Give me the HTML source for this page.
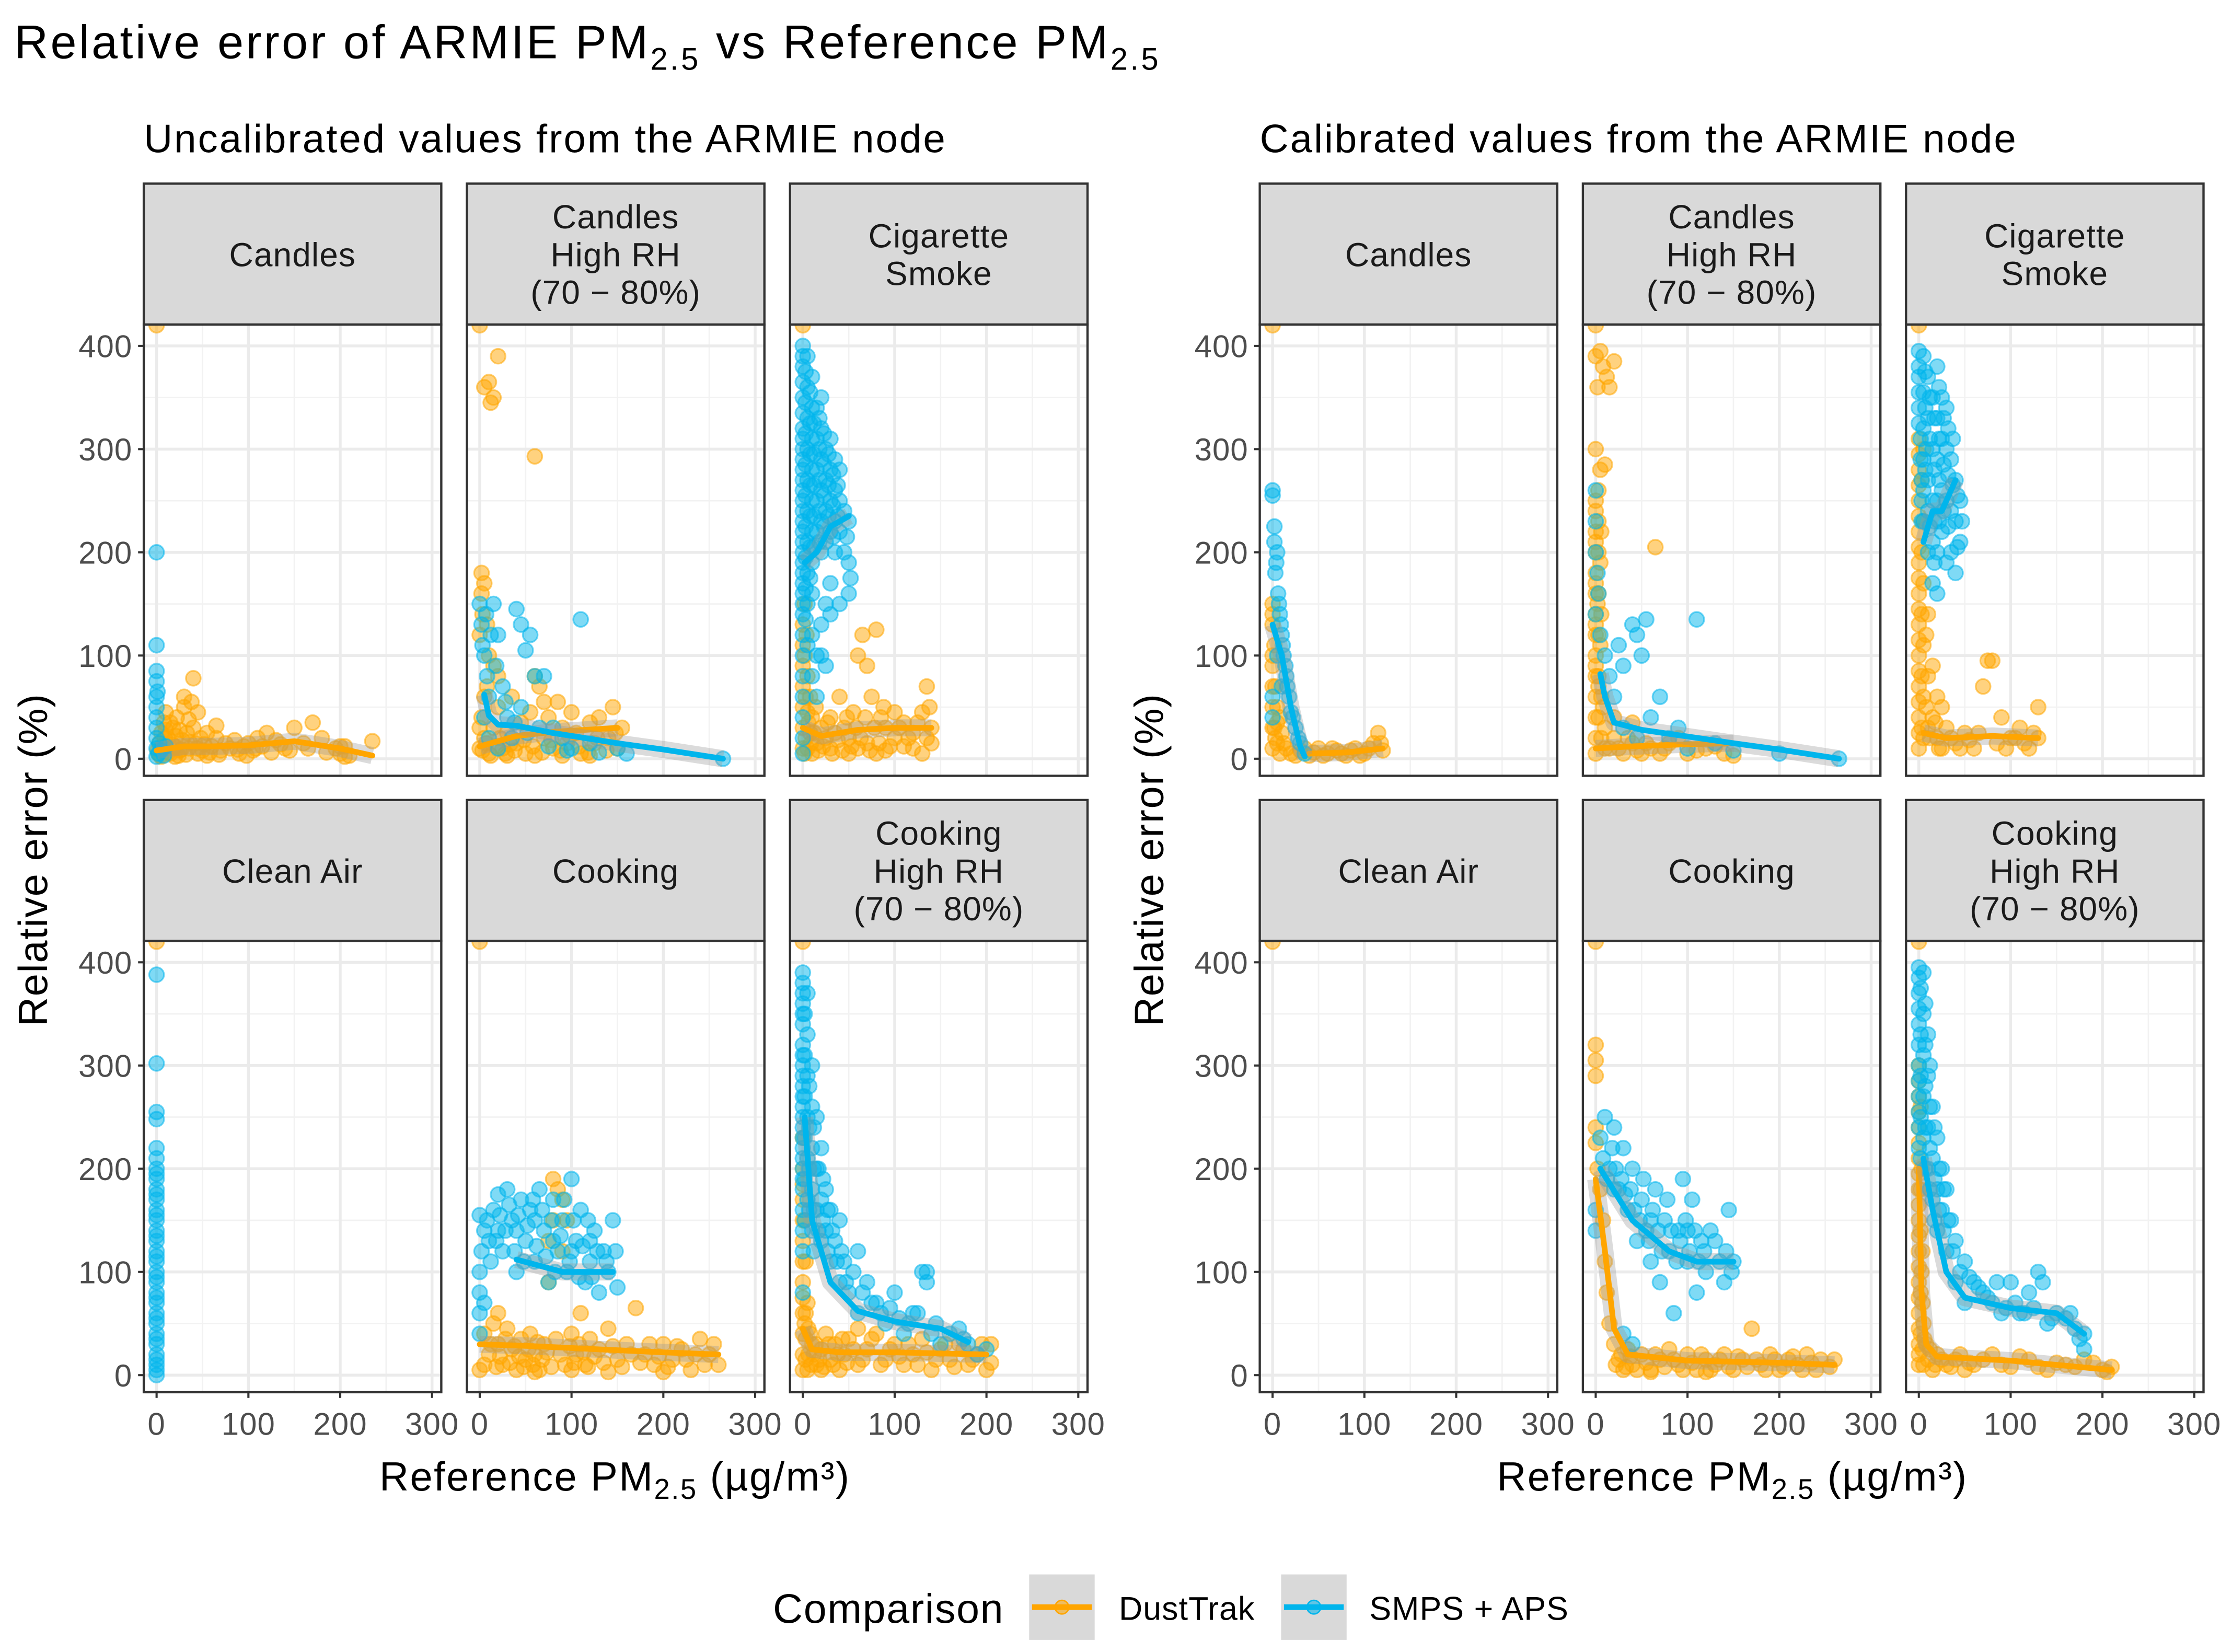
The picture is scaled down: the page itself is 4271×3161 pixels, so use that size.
<!DOCTYPE html>
<html><head><meta charset="utf-8"><style>
html,body{margin:0;padding:0;background:#fff}
svg{display:block}
text{font-family:"Liberation Sans","DejaVu Sans",sans-serif}
</style></head><body>
<svg id="chart" xmlns="http://www.w3.org/2000/svg" width="4271" height="3161" viewBox="0 0 1568 1160.5">
<rect width="1568" height="1160.5" fill="#fff"/>
<text x="10" y="41" font-size="33" letter-spacing="1.6" fill="#000">Relative error of ARMIE PM<tspan font-size="22" dy="8">2.5</tspan><tspan dy="-8"> vs Reference PM</tspan><tspan font-size="22" dy="8">2.5</tspan></text>
<text x="101" y="107" font-size="28" letter-spacing="1.1" fill="#000">Uncalibrated values from the ARMIE node</text>
<text x="885" y="107" font-size="28" letter-spacing="1.1" fill="#000">Calibrated values from the ARMIE node</text>
<g id="panels"></g>
<text transform="translate(33,604) rotate(-90)" text-anchor="middle" font-size="28.5" letter-spacing="0.6" fill="#000">Relative error (%)</text>
<text transform="translate(817,604) rotate(-90)" text-anchor="middle" font-size="28.5" letter-spacing="0.6" fill="#000">Relative error (%)</text>
<text x="432" y="1047" text-anchor="middle" font-size="28.5" letter-spacing="0.9" fill="#000">Reference PM<tspan font-size="20" dy="6">2.5</tspan><tspan dy="-6"> (µg/m³)</tspan></text>
<text x="1217" y="1047" text-anchor="middle" font-size="28.5" letter-spacing="0.9" fill="#000">Reference PM<tspan font-size="20" dy="6">2.5</tspan><tspan dy="-6"> (µg/m³)</tspan></text>
<g>
<text x="543" y="1140" font-size="29" letter-spacing="0.6" fill="#000">Comparison</text>
<g>
<rect x="723" y="1106" width="46" height="46" fill="#d9d9d9"/>
<line x1="725" y1="1129" x2="767" y2="1129" stroke="#FFA500" stroke-width="4"/>
<circle cx="746" cy="1129" r="4.8" fill="#FFA500" fill-opacity="0.55" stroke="#FFA500"/>
<text x="786" y="1138" font-size="23" letter-spacing="0.4" fill="#000">DustTrak</text></g>
<g>
<rect x="900" y="1106" width="46" height="46" fill="#d9d9d9"/>
<line x1="902" y1="1129" x2="944" y2="1129" stroke="#00B5EC" stroke-width="4"/>
<circle cx="923" cy="1129" r="4.8" fill="#00B5EC" fill-opacity="0.55" stroke="#00B5EC"/>
<text x="962" y="1138" font-size="23" letter-spacing="0.4" fill="#000">SMPS + APS</text></g>
</g>
</svg>
<script>
// ---- data (x = reference PM2.5, y = relative error %) ----
const xTicks = [0,100,200,300];
const yTicks = [0,100,200,300,400];
const panelTitles = [["Candles"],["Candles","High RH","(70 − 80%)"],["Cigarette","Smoke"],["Clean Air"],["Cooking"],["Cooking","High RH","(70 − 80%)"]];

const uCandlesDust = [[0,420],[2,5],[3,15],[5,25],[8,35],[10,10],[12,20],[15,5],[18,30],[20,12],[22,40],[25,8],[28,18],[30,50],[33,25],[35,10],[38,55],[40,30],[42,15],[45,45],[48,20],[50,8],[55,25],[60,12],[65,20],[70,8],[75,15],[80,10],[85,18],[90,5],[95,12],[100,15],[105,8],[110,20],[115,12],[120,25],[130,18],[140,10],[150,30],[160,15],[170,35],[180,20],[195,10],[200,5],[205,12],[210,3],[235,17],[40,78],[30,60],[10,45],[5,2],[15,35],[25,28],[35,38],[45,5],[55,3],[65,32],[20,2],[10,28],[1,8],[4,3],[6,12],[9,20],[13,6],[17,14],[21,22],[24,3],[27,9],[32,4],[36,16],[44,10],[52,14],[58,6],[68,4],[88,9],[98,3],[108,10],[125,6],[135,14],[145,8],[165,10],[185,6],[200,12],[205,2]];
const uCandlesSmps = [[0,200],[0,110],[0,85],[0,75],[0,60],[0,50],[0,40],[0,30],[0,20],[0,10],[2,5],[3,15],[5,8],[8,3],[10,12],[1,65],[0,2]];
const uCandlesDustFit = [[0,8],[30,12],[60,12],[100,13],[150,17],[200,10],[235,3]];
const uCandlesSmpsFit = [];

const uCanRHDust = [[0,420],[5,360],[10,365],[15,350],[12,345],[20,390],[60,293],[2,180],[5,170],[3,140],[8,130],[10,100],[15,90],[5,60],[2,40],[5,20],[10,5],[15,30],[20,50],[25,10],[30,25],[35,60],[40,15],[45,35],[50,5],[55,45],[60,80],[65,70],[70,20],[75,40],[80,10],[85,55],[90,30],[95,15],[100,45],[105,25],[110,5],[120,35],[125,15],[130,40],[140,20],[145,50],[150,10],[155,30],[30,3],[60,3],[90,3],[120,3],[8,70],[20,80],[70,55],[0,10],[0,30],[3,8],[7,15],[12,3],[18,12],[22,20],[28,5],[33,14],[38,8],[48,18],[58,12],[68,6],[78,18],[88,8],[98,22],[108,12],[118,6],[128,20],[138,8],[148,25],[0,120],[2,160]];
const uCanRHSmps = [[0,150],[2,130],[5,100],[8,80],[10,60],[15,150],[20,120],[40,145],[45,130],[50,105],[55,120],[60,80],[70,80],[110,135],[265,0],[30,40],[35,20],[80,30],[90,20],[100,10],[120,15],[150,10],[160,5],[10,20],[20,10],[5,40],[25,70],[45,50],[65,30],[3,110],[7,140],[12,120],[18,90],[28,55],[38,35],[52,25],[75,12],[95,8],[130,6]];
const uCanRHDustFit = [[0,12],[40,22],[80,26],[150,30]];
const uCanRHSmpsFit = [[5,62],[10,42],[20,33],[40,32],[80,25],[150,15],[200,9],[265,0]];

const uCigDust = [[0,420],[0,130],[2,100],[5,80],[8,60],[10,40],[12,25],[15,15],[5,10],[20,30],[25,20],[30,40],[35,25],[40,60],[45,30],[50,20],[55,45],[60,100],[65,120],[70,90],[75,60],[80,125],[85,40],[90,30],[100,20],[110,35],[120,25],[130,45],[135,70],[140,30],[140,15],[60,10],[80,5],[100,45],[120,10],[10,5],[30,10],[50,5],[0,90],[0,70],[0,50],[0,30],[3,20],[5,45],[8,25],[2,5],[70,15],[90,8],[110,12],[130,5],[0,10],[0,110],[3,60],[6,35],[9,15],[14,50],[17,8],[22,12],[27,35],[32,5],[38,18],[43,8],[48,40],[53,12],[58,30],[63,20],[68,40],[73,8],[78,30],[83,15],[88,50],[95,12],[105,30],[115,20],[125,35],[135,20],[138,50],[2,150],[4,120]];
const uCigSmps = [[0,400],[0,380],[0,350],[0,320],[0,300],[0,280],[0,260],[0,240],[0,220],[0,200],[0,180],[0,160],[0,140],[0,100],[0,60],[0,20],[5,390],[5,360],[5,330],[5,300],[5,270],[5,240],[5,210],[5,180],[5,150],[10,370],[10,340],[10,310],[10,280],[10,250],[10,220],[10,190],[10,160],[15,340],[15,310],[15,280],[15,250],[15,220],[20,350],[20,320],[20,290],[20,260],[20,230],[20,200],[25,300],[25,270],[25,240],[25,210],[30,310],[30,280],[30,250],[30,220],[35,290],[35,260],[35,230],[35,200],[40,280],[40,250],[40,220],[45,240],[45,200],[50,230],[50,190],[50,160],[10,120],[20,130],[30,140],[40,150],[15,100],[25,90],[0,390],[0,365],[0,335],[0,310],[0,290],[0,270],[0,250],[0,230],[0,210],[0,190],[0,170],[0,150],[0,120],[0,80],[0,40],[0,5],[3,375],[3,345],[3,315],[3,285],[3,255],[3,225],[3,195],[3,165],[3,135],[8,355],[8,325],[8,295],[8,265],[8,235],[8,205],[8,175],[12,325],[12,295],[12,265],[12,235],[12,205],[18,330],[18,300],[18,270],[18,240],[18,210],[23,315],[23,285],[23,255],[23,225],[28,295],[28,265],[28,235],[33,275],[33,245],[33,215],[38,265],[38,235],[48,215],[52,175],[5,110],[10,80],[15,60],[20,100],[25,150],[30,170]];
const uCigDustFit = [[0,30],[20,22],[60,28],[100,30],[140,30]];
const uCigSmpsFit = [[2,190],[15,200],[30,225],[50,235]];

const uCleanDust = [[0,420]];
const uCleanSmps = [[0,388],[0,302],[0,255],[0,248],[0,220],[0,210],[0,200],[0,190],[0,180],[0,170],[0,160],[0,150],[0,140],[0,130],[0,120],[0,110],[0,100],[0,90],[0,80],[0,70],[0,60],[0,50],[0,40],[0,30],[0,20],[0,10],[0,0],[0,195],[0,175],[0,155],[0,135],[0,115],[0,95],[0,75],[0,55],[0,35],[0,15],[0,5]];
const uCleanDustFit = [];
const uCleanSmpsFit = [];

const uCookDust = [[0,420],[0,5],[5,40],[10,20],[15,50],[20,30],[25,10],[30,45],[35,25],[40,5],[45,35],[50,15],[55,40],[60,20],[65,5],[70,30],[75,90],[80,190],[85,180],[90,120],[95,150],[100,40],[105,20],[110,60],[115,10],[120,35],[130,25],[140,45],[150,15],[160,30],[170,65],[180,20],[190,10],[200,30],[210,15],[220,25],[230,5],[240,35],[250,20],[260,10],[60,3],[100,5],[140,3],[200,3],[20,60],[5,10],[12,30],[18,8],[22,18],[28,35],[33,12],[38,28],[43,18],[48,8],[53,25],[58,10],[63,32],[68,15],[73,22],[78,8],[83,35],[88,20],[93,10],[98,28],[103,12],[108,30],[113,22],[118,8],[125,18],[135,12],[145,28],[155,8],[165,20],[175,12],[185,30],[195,18],[205,8],[215,28],[225,15],[235,20],[245,10],[255,30],[80,150],[90,170],[75,130]];
const uCookSmps = [[0,155],[0,100],[0,80],[0,60],[5,140],[10,130],[15,160],[20,175],[25,120],[30,180],[35,150],[40,100],[45,170],[50,130],[55,160],[60,110],[65,180],[70,140],[75,90],[80,170],[85,120],[90,150],[95,100],[100,190],[105,130],[110,160],[115,90],[120,110],[125,140],[130,80],[135,120],[140,100],[145,150],[150,85],[20,140],[40,140],[60,150],[80,130],[100,120],[120,130],[2,120],[8,150],[12,110],[18,130],[22,155],[28,140],[32,165],[38,120],[42,155],[48,110],[52,145],[58,170],[62,125],[68,160],[72,115],[78,150],[82,100],[88,135],[92,170],[98,110],[102,150],[108,95],[112,125],[118,150],[122,95],[128,120],[138,110],[148,120],[0,40],[5,70]];
const uCookDustFit = [[0,30],[60,28],[130,25],[200,22],[260,20]];
const uCookSmpsFit = [[40,112],[90,100],[145,100]];

const uCookRHDust = [[0,420],[0,230],[0,200],[0,170],[2,150],[0,130],[3,110],[0,90],[5,70],[2,50],[8,40],[10,30],[12,20],[15,10],[20,25],[25,40],[30,15],[35,30],[40,5],[45,20],[50,35],[60,10],[70,25],[80,40],[90,15],[100,30],[110,10],[120,20],[130,35],[140,5],[150,25],[160,15],[170,30],[180,10],[190,20],[200,5],[205,30],[0,5],[0,60],[5,5],[20,5],[60,45],[0,20],[0,40],[0,75],[0,110],[0,150],[0,185],[3,15],[3,35],[3,60],[6,20],[6,45],[9,10],[14,30],[18,15],[23,8],[28,30],[33,10],[38,20],[43,35],[48,12],[55,25],[65,15],[75,35],[85,10],[95,25],[105,18],[115,30],[125,10],[135,22],[145,15],[155,30],[165,8],[175,25],[185,15],[195,30],[205,12]];
const uCookRHSmps = [[0,390],[0,370],[0,350],[0,320],[0,300],[0,280],[0,260],[0,240],[0,220],[0,200],[0,180],[5,370],[5,330],[5,290],[5,250],[5,210],[5,170],[10,300],[10,260],[10,220],[10,180],[10,140],[15,250],[15,200],[15,160],[20,220],[20,170],[20,130],[25,180],[25,140],[30,160],[30,110],[35,130],[40,150],[40,90],[45,110],[50,80],[60,120],[60,60],[70,90],[80,70],[90,50],[100,80],[110,40],[120,60],[130,100],[135,90],[140,40],[150,30],[170,45],[180,30],[190,20],[200,25],[0,120],[0,80],[0,380],[0,360],[0,340],[0,310],[0,290],[0,270],[0,250],[0,230],[0,210],[0,190],[0,160],[0,140],[2,350],[2,310],[2,270],[2,230],[2,190],[2,150],[7,280],[7,240],[7,200],[7,160],[12,240],[12,200],[12,160],[12,120],[17,200],[17,140],[22,190],[22,150],[27,160],[27,120],[32,140],[37,110],[42,120],[47,90],[55,100],[65,80],[75,70],[85,60],[95,65],[105,55],[115,50],[125,60],[135,100],[145,50],[160,40],[175,35]];
const uCookRHDustFit = [[0,45],[10,25],[40,22],[100,22],[200,20]];
const uCookRHSmpsFit = [[2,250],[10,150],[30,90],[60,62],[100,52],[150,45],[180,32]];

const cCandlesDust = [[0,420],[0,150],[0,130],[2,110],[0,90],[3,70],[5,50],[2,30],[5,15],[8,5],[10,25],[15,10],[20,5],[30,8],[40,3],[50,10],[60,5],[70,8],[80,3],[90,10],[100,5],[110,15],[115,25],[120,8],[0,10],[5,35],[0,140],[0,100],[0,70],[0,50],[0,30],[3,20],[8,40],[12,15],[25,3],[35,10],[45,6],[55,3],[65,10],[75,5],[85,8],[95,3],[105,10],[118,15]];
const cCandlesSmps = [[0,260],[2,225],[5,200],[3,180],[6,160],[8,140],[10,120],[12,100],[15,80],[18,60],[20,45],[25,30],[30,15],[35,5],[0,60],[0,40],[5,100],[10,70],[0,255],[2,210],[4,190],[7,150],[9,130],[11,110],[14,90],[16,70],[22,40],[28,20]];
const cCandlesDustFit = [[40,5],[80,6],[120,10]];
const cCandlesSmpsFit = [[0,130],[10,100],[20,50],[30,12],[35,2]];

const cCanRHDust = [[0,420],[0,390],[5,395],[8,380],[12,370],[15,360],[20,385],[2,360],[0,300],[5,280],[10,285],[0,250],[3,230],[0,210],[5,190],[0,170],[2,150],[0,130],[5,110],[0,90],[3,70],[8,50],[10,30],[15,10],[20,20],[30,5],[40,15],[50,5],[60,10],[65,205],[70,5],[80,15],[100,5],[120,10],[150,3],[20,40],[40,35],[0,20],[0,5],[0,240],[0,220],[0,200],[0,180],[0,160],[0,140],[0,120],[0,100],[0,80],[0,60],[0,40],[3,260],[3,200],[3,160],[3,120],[3,80],[3,40],[6,220],[6,140],[6,60],[6,20],[10,10],[25,10],[35,20],[45,8],[55,15],[75,10],[90,20],[110,8],[130,12],[140,5]];
const cCanRHSmps = [[0,140],[5,120],[10,100],[15,80],[20,60],[25,110],[30,90],[40,130],[45,120],[50,100],[55,135],[60,40],[70,60],[80,20],[90,30],[100,10],[110,135],[130,15],[150,8],[200,5],[265,0],[30,30],[45,20],[0,260],[0,230],[0,200],[2,180],[3,160]];
const cCanRHDustFit = [[0,10],[40,12],[100,14],[150,15]];
const cCanRHSmpsFit = [[5,82],[10,60],[20,35],[50,28],[150,15],[200,9],[265,0]];

const cCigDust = [[0,420],[0,310],[0,280],[0,250],[0,220],[0,190],[0,160],[0,130],[0,100],[0,70],[0,40],[0,10],[5,300],[5,230],[5,170],[5,110],[5,60],[5,20],[10,140],[10,80],[10,30],[15,90],[15,40],[20,60],[20,20],[25,50],[25,10],[30,30],[40,15],[50,25],[60,10],[70,70],[75,95],[80,95],[90,40],[100,20],[110,30],[120,10],[130,50],[130,20],[0,295],[0,265],[0,235],[0,205],[0,175],[0,145],[0,115],[0,85],[0,55],[0,25],[3,270],[3,200],[3,140],[3,80],[3,30],[8,120],[8,50],[12,20],[18,35],[22,10],[35,20],[45,10],[55,18],[65,25],[85,15],[95,10],[105,20],[115,15],[125,25]];
const cCigSmps = [[0,395],[0,370],[0,340],[2,310],[5,390],[5,355],[5,320],[5,290],[5,260],[5,230],[8,300],[10,370],[10,330],[10,270],[10,240],[10,200],[15,350],[15,300],[15,250],[15,210],[15,170],[20,380],[20,330],[20,290],[20,250],[20,200],[20,160],[25,350],[25,310],[25,260],[25,220],[30,340],[30,300],[30,250],[30,190],[35,290],[35,240],[35,200],[40,270],[40,230],[40,180],[45,250],[45,210],[0,380],[0,355],[0,325],[2,290],[3,270],[3,250],[3,230],[7,375],[7,340],[7,280],[12,350],[12,310],[12,225],[17,330],[17,280],[17,230],[17,190],[22,360],[22,310],[22,270],[22,230],[27,330],[27,285],[27,240],[32,320],[32,275],[32,225],[37,310],[37,265],[42,255],[42,205],[47,230]];
const cCigDustFit = [[5,25],[30,20],[80,22],[130,20]];
const cCigSmpsFit = [[5,210],[15,240],[25,240],[40,270]];

const cCleanDust = [[0,420]];
const cCleanSmps = [];
const cCleanDustFit = [];
const cCleanSmpsFit = [];

const cCookDust = [[0,420],[0,320],[0,305],[0,290],[0,240],[0,225],[2,200],[5,180],[8,150],[10,110],[12,80],[15,50],[20,30],[25,15],[30,5],[35,25],[40,10],[50,20],[60,5],[70,15],[80,25],[90,10],[100,20],[110,5],[120,15],[130,10],[140,20],[150,5],[160,15],[170,45],[180,10],[190,20],[200,5],[210,15],[220,10],[230,20],[240,5],[260,15],[60,3],[120,3],[22,10],[28,20],[33,8],[38,18],[45,5],[55,12],[65,20],[75,8],[85,15],[95,5],[105,12],[115,20],[125,5],[135,15],[145,8],[155,18],[165,8],[175,15],[185,5],[195,15],[205,8],[215,18],[225,5],[235,12],[245,15],[255,8]];
const cCookSmps = [[0,160],[0,140],[5,230],[10,250],[15,200],[20,240],[25,180],[30,220],[35,160],[40,200],[45,130],[50,170],[55,140],[60,110],[65,180],[70,90],[75,150],[80,120],[85,60],[90,140],[95,190],[100,110],[105,170],[110,80],[115,130],[120,100],[130,130],[140,90],[145,160],[150,110],[30,40],[40,30],[20,180],[60,150],[100,140],[8,210],[12,190],[18,220],[22,200],[28,190],[32,175],[38,180],[42,160],[48,150],[52,190],[58,130],[62,160],[68,140],[72,120],[78,170],[82,140],[88,110],[92,130],[98,150],[102,120],[108,140],[112,110],[118,120],[125,140],[135,110],[142,120],[148,100]];
const cCookDustFit = [[0,190],[10,120],[20,45],[35,20],[100,14],[200,12],[260,10]];
const cCookSmpsFit = [[5,200],[40,150],[80,120],[110,110],[150,110]];

const cCookRHDust = [[0,420],[0,300],[0,270],[0,240],[0,210],[0,180],[0,150],[0,120],[0,90],[0,60],[0,30],[3,200],[3,100],[5,50],[8,30],[10,15],[15,5],[20,20],[30,10],[40,15],[50,5],[60,10],[80,20],[100,8],[120,15],[140,5],[160,10],[180,15],[200,5],[210,8],[0,10],[5,10],[0,285],[0,255],[0,225],[0,195],[0,165],[0,135],[0,105],[0,75],[0,45],[0,20],[2,260],[2,180],[2,140],[2,80],[2,40],[4,120],[4,70],[4,25],[6,35],[12,25],[18,10],[25,15],[35,8],[45,20],[55,12],[70,15],[90,10],[110,18],[130,8],[150,12],[170,8],[190,12],[205,3]];
const cCookRHSmps = [[0,395],[0,370],[0,340],[0,300],[0,270],[0,240],[5,390],[5,350],[5,310],[5,270],[5,230],[10,330],[10,290],[10,240],[10,200],[15,260],[15,210],[15,170],[20,230],[20,180],[20,140],[25,200],[25,160],[30,180],[30,120],[35,150],[40,130],[40,90],[50,110],[50,70],[60,90],[70,80],[80,70],[90,60],[100,90],[110,60],[120,80],[130,100],[135,90],[140,50],[150,60],[160,55],[170,45],[180,40],[180,25],[0,385],[0,355],[0,320],[0,285],[0,255],[0,220],[2,375],[2,330],[2,290],[2,250],[2,210],[7,360],[7,320],[7,280],[7,240],[7,200],[12,300],[12,260],[12,220],[12,180],[17,240],[17,190],[17,150],[22,200],[22,160],[27,180],[27,140],[32,150],[37,120],[45,100],[55,95],[65,85],[75,75],[85,90],[95,65],[105,70],[115,60],[125,65],[145,55],[165,60],[175,35]];
const cCookRHDustFit = [[0,200],[3,80],[8,30],[20,18],[100,14],[210,5]];
const cCookRHSmpsFit = [[5,210],[15,160],[30,100],[50,75],[100,65],[150,60],[180,40]];

const panelSeries = [
  [uCandlesDust,uCandlesSmps,uCandlesDustFit,uCandlesSmpsFit],
  [uCanRHDust,uCanRHSmps,uCanRHDustFit,uCanRHSmpsFit],
  [uCigDust,uCigSmps,uCigDustFit,uCigSmpsFit],
  [uCleanDust,uCleanSmps,uCleanDustFit,uCleanSmpsFit],
  [uCookDust,uCookSmps,uCookDustFit,uCookSmpsFit],
  [uCookRHDust,uCookRHSmps,uCookRHDustFit,uCookRHSmpsFit],
  [cCandlesDust,cCandlesSmps,cCandlesDustFit,cCandlesSmpsFit],
  [cCanRHDust,cCanRHSmps,cCanRHDustFit,cCanRHSmpsFit],
  [cCigDust,cCigSmps,cCigDustFit,cCigSmpsFit],
  [cCleanDust,cCleanSmps,cCleanDustFit,cCleanSmpsFit],
  [cCookDust,cCookSmps,cCookDustFit,cCookSmpsFit],
  [cCookRHDust,cCookRHSmps,cCookRHDustFit,cCookRHSmpsFit]
];

// ---- layout ----
const NS = "http://www.w3.org/2000/svg";
const root = document.getElementById('panels');
const groupLefts = [101, 885];
const colOffsets = [0, 227, 454];
const stripTops = [129, 562];
const PW = 209, SH = 99, PH = 317;
const ORANGE = "#FFA500", BLUE = "#00B5EC";
function mk(tag, attrs, parent){ const e=document.createElementNS(NS,tag); for(const k in attrs) e.setAttribute(k,attrs[k]); (parent||root).appendChild(e); return e; }
function xScale(left, v){ return left + 9 + v*0.645; }
function yScale(top, v){ return top + 15 + (400 - v)*0.725; }

for (let g=0; g<2; g++){
  for (let r=0; r<2; r++){
    for (let c=0; c<3; c++){
      const idx = g*6 + r*3 + c;
      const left = groupLefts[g] + colOffsets[c];
      const st = stripTops[r];
      const top = st + SH;
      const pg = mk('g', {});
      
      
      const strip = mk('rect', {x:left, y:st, width:PW, height:SH, fill:'#d9d9d9', stroke:'#333', 'stroke-width':1.6}, pg);
      
      
      const lines = panelTitles[r*3+c];
      const lh = 26.5, cy = st + SH/2;
      lines.forEach((t,i)=>{
        const tx = mk('text', {x:left+PW/2, y:cy + (i-(lines.length-1)/2)*lh + 8.5, 'text-anchor':'middle', 'font-size':23.5, 'letter-spacing':0.4, fill:'#1a1a1a'}, pg);
        tx.textContent = t;
        
        
      });
      mk('rect', {x:left, y:top, width:PW, height:PH, fill:'#fff'}, pg);
      const clipId = 'clip'+idx;
      const cp = mk('clipPath', {id:clipId}, pg);
      mk('rect', {x:left, y:top, width:PW, height:PH}, cp);
      const gg = mk('g', {'clip-path':'url(#'+clipId+')'}, pg);
      [50,150,250,350].forEach(v=>{ const y=yScale(top,v); mk('line',{x1:left,x2:left+PW,y1:y,y2:y,stroke:'#f2f2f2','stroke-width':1},gg); });
      [50,150,250].forEach(v=>{ const x=xScale(left,v); mk('line',{x1:x,x2:x,y1:top,y2:top+PH,stroke:'#f2f2f2','stroke-width':1},gg); });
      yTicks.forEach(v=>{ const y=yScale(top,v); mk('line',{x1:left,x2:left+PW,y1:y,y2:y,stroke:'#ebebeb','stroke-width':2},gg); });
      xTicks.forEach(v=>{ const x=xScale(left,v); mk('line',{x1:x,x2:x,y1:top,y2:top+PH,stroke:'#ebebeb','stroke-width':2},gg); });
      const [dust, smps, dustFit, smpsFit] = panelSeries[idx];
      [[dust,ORANGE,'dusttrak'],[smps,BLUE,'smps-aps']].forEach(([arr,col,nm])=>{
        arr.forEach(p=>{
          const ci = mk('circle', {cx:xScale(left,p[0]), cy:yScale(top,p[1]), r:5.2, fill:col, 'fill-opacity':0.5, stroke:col, 'stroke-opacity':0.55, 'stroke-width':1.2}, gg);
          
          
        });
      });
      [[dustFit,ORANGE,'dusttrak'],[smpsFit,BLUE,'smps-aps']].forEach(([arr,col,nm])=>{
        if (arr.length<2) return;
        const d = arr.map((p,i)=>(i?'L':'M')+xScale(left,p[0]).toFixed(1)+','+yScale(top,p[1]).toFixed(1)).join(' ');
        const band = mk('path', {d:d, fill:'none', stroke:'#999', 'stroke-opacity':0.35, 'stroke-width':12, 'stroke-linejoin':'round'}, gg);
        
        
        const ln = mk('path', {d:d, fill:'none', stroke:col, 'stroke-width':4, 'stroke-linejoin':'round', 'stroke-linecap':'round'}, gg);
        
        
      });
      mk('rect', {x:left, y:top, width:PW, height:PH, fill:'none', stroke:'#333', 'stroke-width':1.6}, pg);
      if (c===0){
        yTicks.forEach(v=>{
          const y=yScale(top,v);
          mk('line',{x1:left-4,x2:left,y1:y,y2:y,stroke:'#333','stroke-width':1.5},pg);
          const t = mk('text',{x:left-8,y:y+8,'text-anchor':'end','font-size':22,'letter-spacing':0.4,fill:'#4d4d4d'},pg);
          t.textContent = v;
          
          
        });
      }
      if (r===1){
        xTicks.forEach(v=>{
          const x=xScale(left,v);
          mk('line',{x1:x,x2:x,y1:top+PH,y2:top+PH+4,stroke:'#333','stroke-width':1.5},pg);
          const t = mk('text',{x:x,y:top+PH+30,'text-anchor':'middle','font-size':22,'letter-spacing':0.4,fill:'#4d4d4d'},pg);
          t.textContent = v;
          
          
        });
      }
    }
  }
}
</script>
</body></html>
